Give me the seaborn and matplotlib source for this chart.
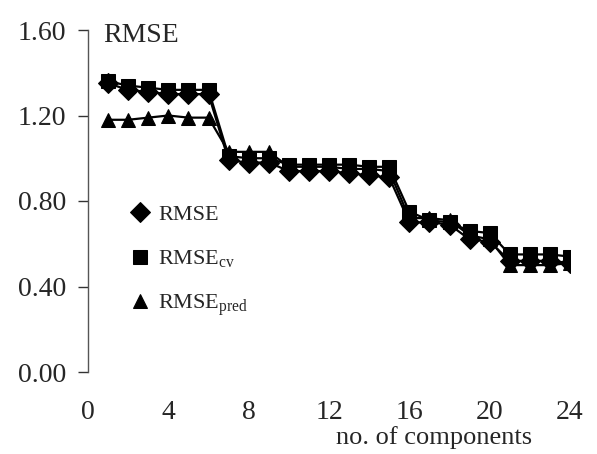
import matplotlib
matplotlib.use("Agg")
import matplotlib.pyplot as plt
import seaborn as sns
import pandas as pd
import numpy as np

components = list(range(1, 25))
rmse = [1.35, 1.32, 1.31, 1.30, 1.30, 1.30, 0.99, 0.98, 0.98, 0.94, 0.94, 0.94,
        0.93, 0.92, 0.91, 0.70, 0.70, 0.69, 0.62, 0.61, 0.52, 0.52, 0.52, 0.51]
rmse_cv = [1.36, 1.34, 1.33, 1.32, 1.32, 1.32, 1.01, 1.00, 1.00, 0.97, 0.97, 0.97,
           0.97, 0.96, 0.96, 0.75, 0.71, 0.70, 0.66, 0.65, 0.55, 0.55, 0.55, 0.54]
rmse_pred = [1.18, 1.18, 1.19, 1.20, 1.19, 1.19, 1.03, 1.03, 1.03, 0.96, 0.96, 0.96,
             0.95, 0.95, 0.94, 0.72, 0.72, 0.71, 0.64, 0.62, 0.50, 0.50, 0.50, 0.51]
labels = ["RMSE", r"RMSE$_{\mathrm{cv}}$", r"RMSE$_{\mathrm{pred}}$"]
x_ticks = [0, 4, 8, 12, 16, 20, 24]
y_ticks = [0.00, 0.40, 0.80, 1.20, 1.60]

df = pd.DataFrame({
    "comp": components * 3,
    "value": rmse + rmse_cv + rmse_pred,
    "series": [labels[0]] * 24 + [labels[1]] * 24 + [labels[2]] * 24,
})

sns.set_style("white")
plt.rcParams["font.family"] = ["Liberation Serif", "DejaVu Serif"]
plt.rcParams["mathtext.fontset"] = "custom"
plt.rcParams["mathtext.rm"] = "Liberation Serif"
plt.rcParams["mathtext.it"] = "Liberation Serif:italic"

fig = plt.figure(figsize=(5.97, 4.54), dpi=100)
ax = fig.add_axes([88 / 597, 1 - 372 / 454, 482 / 597, 342 / 454])

sns.lineplot(data=df, x="comp", y="value", hue="series", style="series",
             hue_order=labels, style_order=labels,
             palette=["black"] * 3, markers={labels[0]: "D", labels[1]: "s", labels[2]: "^"},
             dashes=False, markersize=10, linewidth=1.6, markeredgecolor="black",
             ax=ax)

ax.set_xlim(0, 24)
ax.set_ylim(0, 1.6)
ax.set_xticks(x_ticks)
ax.set_yticks(y_ticks)
ax.set_yticklabels([f"{v:.2f}" for v in y_ticks])
ax.tick_params(axis="x", length=0, pad=20, labelsize=20)
ax.tick_params(axis="y", length=7, width=1, direction="out", pad=9, labelsize=20,
               left=True, color="#333333")
for s in ["top", "right", "bottom"]:
    ax.spines[s].set_visible(False)
ax.spines["left"].set_color("#555555")
ax.spines["left"].set_linewidth(1.0)

ax.set_xlabel("no. of components", fontsize=19)
ax.xaxis.set_label_coords(0.718, -0.158)
ax.set_ylabel("")
ax.text(0.031, 0.985, "RMSE", transform=ax.transAxes, fontsize=20, va="center", ha="left")

leg = ax.legend(loc="upper left", bbox_to_anchor=(0.09, 0.49), frameon=False,
                fontsize=16, handlelength=0.8, handletextpad=0.4, labelspacing=1.05,
                borderpad=0, borderaxespad=0)
for h in leg.legend_handles:
    h.set_linestyle("None")

fig.savefig("out.png", dpi=100)
